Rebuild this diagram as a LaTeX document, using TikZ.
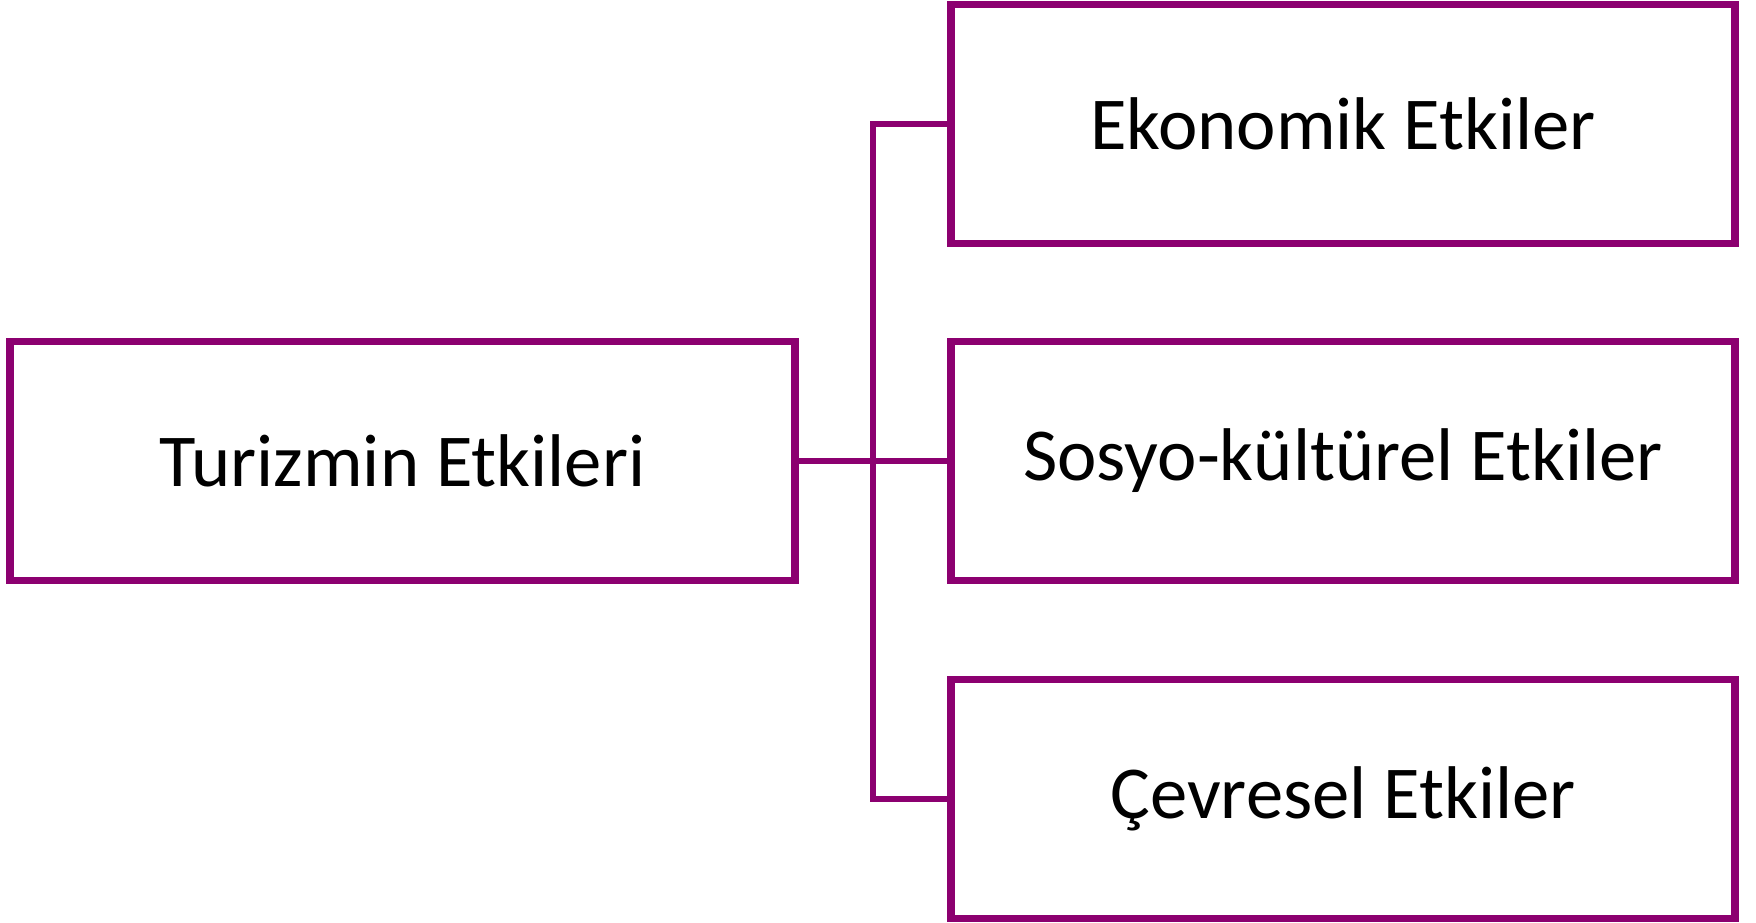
\documentclass[tikz,border=0pt]{standalone}
\usepackage{fontspec}
\setmainfont{Carlito}
\usetikzlibrary{shadows}

\definecolor{mor}{RGB}{140,0,112}

\tikzset{
    etkibox/.style={draw=mor, line width=4.5pt, fill=white, inner sep=0pt,
        minimum height=4.78cm, font=\fontsize{42.5}{50}\selectfont,
        drop shadow={shadow xshift=0.8pt, shadow yshift=-1.8pt, opacity=0.4, fill=gray}},
    baglanti/.style={draw=mor, line width=3.1pt}
}

\begin{document}
\begin{tikzpicture}[x=0.02cm, y=-0.02cm]
    % Fix the picture size (pixel units of the reference)
    \useasboundingbox (0,0) rectangle (1756,923);

    % Main box on the left
    \node[etkibox, minimum width=15.7cm] (turizm) at (402.5,461) {Turizmin Etkileri};

    % The three boxes on the right
    \node[etkibox, minimum width=15.68cm] (ekonomik) at (1343,124) {Ekonomik Etkiler};
    \node[etkibox, minimum width=15.68cm] (sosyo) at (1343,461) {Sosyo-kültürel Etkiler};
    \node[etkibox, minimum width=15.68cm] (cevre) at (1343,799) {Çevresel Etkiler};

    % Connectors
    \coordinate (kol) at (873,461);
    \draw[baglanti] (turizm.east) -- (sosyo.west);
    \draw[baglanti] (ekonomik.west) -| (kol) |- (cevre.west);
\end{tikzpicture}
\end{document}
